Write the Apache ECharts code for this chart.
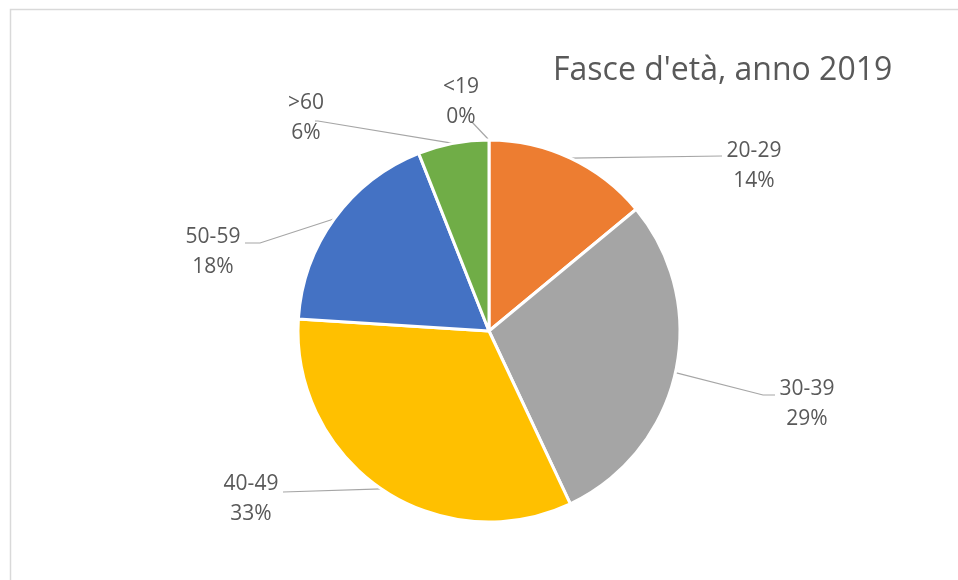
<!DOCTYPE html>
<html>
<head>
<meta charset="utf-8">
<script src="https://cdn.jsdelivr.net/npm/echarts@6/dist/echarts.min.js"></script>
<style>
  html, body { margin: 0; padding: 0; background: #fff; }
  #chart { width: 958px; height: 580px; }
</style>
</head>
<body>
<div id="chart"></div>
<script>
// Age bands, share of total (%)
var categories = ['<19', '20-29', '30-39', '40-49', '50-59', '>60'];
var values = [0, 14, 29, 33, 18, 6];
var colors = ['#5B9BD5', '#ED7D31', '#A5A5A5', '#FFC000', '#4472C4', '#70AD47'];

// Where each label sits (centre of the two-line block) and the elbow of its leader line,
// in the same order as categories
var labelSpots = [
    { x: 461, y: 102, line: [[471, 121]] },
    { x: 754, y: 166, line: [[722, 156]] },
    { x: 807, y: 404, line: [[763, 395], [775, 395]] },
    { x: 251, y: 499, line: [[283, 492]] },
    { x: 213, y: 252, line: [[260, 243], [245, 243]] },
    { x: 306, y: 118, line: [[318, 121], [315, 121]] }
];

var chart = echarts.init(document.getElementById('chart'));

chart.setOption({
    backgroundColor: '#fff',
    animation: false,
    title: {
        text: "Fasce d'età, anno 2019",
        left: 548,
        top: 50,
        textStyle: {
            fontFamily: 'Open Sans',
            fontSize: 32,
            fontWeight: 'normal',
            color: '#595959'
        }
    },
    graphic: [{
        type: 'rect',
        left: 8,
        top: 7,
        shape: { width: 1200, height: 900 },
        style: { fill: 'none', stroke: '#d9d9d9', lineWidth: 1.5 },
        silent: true
    }],
    series: [{
        type: 'pie',
        center: [489, 331],
        radius: 191,
        startAngle: 90,
        clockwise: true,
        minAngle: 0,
        avoidLabelOverlap: false,
        itemStyle: { borderColor: '#fff', borderWidth: 3 },
        label: {
            show: true,
            position: 'outside',
            fontFamily: 'Open Sans',
            fontSize: 21,
            lineHeight: 30,
            color: '#595959',
            align: 'center',
            formatter: function (p) {
                return p.name + '\n' + Math.round(p.percent) + '%';
            }
        },
        labelLine: {
            show: true,
            length: 20,
            length2: 10,
            lineStyle: { color: '#a6a6a6', width: 1.2 }
        },
        labelLayout: function (params) {
            var spot = labelSpots[params.dataIndex];
            var start = params.labelLinePoints ? params.labelLinePoints[0] : null;
            var out = { x: spot.x, y: spot.y, align: 'center', verticalAlign: 'middle' };
            if (start) {
                out.labelLinePoints = [start].concat(spot.line);
                if (out.labelLinePoints.length === 2) {
                    out.labelLinePoints.push(spot.line[0]);
                }
            }
            return out;
        },
        data: categories.map(function (c, i) {
            return { name: c, value: values[i], itemStyle: { color: colors[i] } };
        })
    }]
});
</script>
</body>
</html>
